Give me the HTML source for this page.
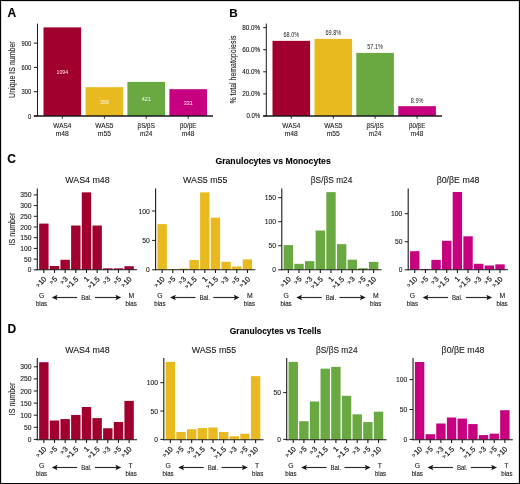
<!DOCTYPE html>
<html><head><meta charset="utf-8"><title>Figure</title>
<style>
html,body{margin:0;padding:0;background:#fff;}
body{width:520px;height:484px;overflow:hidden;position:relative;}
#frame{position:absolute;left:0;top:0;width:518px;height:482px;border:1px solid #000;box-shadow:inset 1px 1px 0 rgba(0,0,0,.13),inset -1px 0 0 rgba(0,0,0,.13);}
svg{position:absolute;left:0;top:0;display:block;will-change:transform;}
svg text{font-family:"Liberation Sans",sans-serif;stroke:#1c1c1c;stroke-width:0.12px;}
svg text.r{stroke-width:0.22px;}
svg text.w{stroke:none;}
</style></head><body>
<svg width="520" height="484" viewBox="0 0 520 484">
<text x="7.4" y="17.3" font-size="12" text-anchor="start" font-weight="bold" fill="#000" stroke="#000" stroke-width="0.35">A</text>
<text x="229.2" y="17.2" font-size="11.7" text-anchor="start" font-weight="bold" fill="#000" stroke="#000" stroke-width="0.35">B</text>
<text x="7.3" y="163.2" font-size="12" text-anchor="start" font-weight="bold" fill="#000" stroke="#000" stroke-width="0.35">C</text>
<text x="7.4" y="333.2" font-size="12" text-anchor="start" font-weight="bold" fill="#000" stroke="#000" stroke-width="0.35">D</text>
<rect x="43.5" y="27.39" width="37.6" height="88.61" fill="#A1002E"/>
<text x="62.3" y="73.79" font-size="5.9" text-anchor="middle" font-weight="normal" fill="#ffffff" textLength="11.4" lengthAdjust="spacingAndGlyphs" opacity="0.93" class="w">1094</text>
<line x1="62.3" y1="116" x2="62.3" y2="118.8" stroke="#1a1a1a" stroke-width="0.9"/>
<text x="62.3" y="128.2" font-size="7.2" text-anchor="middle" font-weight="normal" fill="#1c1c1c" textLength="18" lengthAdjust="spacingAndGlyphs">WAS4</text>
<text x="62.3" y="136" font-size="7.2" text-anchor="middle" font-weight="normal" fill="#1c1c1c" textLength="13.1" lengthAdjust="spacingAndGlyphs">m48</text>
<rect x="85.6" y="87.16" width="37.6" height="28.84" fill="#E9BA1F"/>
<text x="104.4" y="103.68" font-size="5.9" text-anchor="middle" font-weight="normal" fill="#ffffff" textLength="9" lengthAdjust="spacingAndGlyphs" opacity="0.93" class="w">356</text>
<line x1="104.4" y1="116" x2="104.4" y2="118.8" stroke="#1a1a1a" stroke-width="0.9"/>
<text x="104.4" y="128.2" font-size="7.2" text-anchor="middle" font-weight="normal" fill="#1c1c1c" textLength="18.2" lengthAdjust="spacingAndGlyphs">WAS5</text>
<text x="104.4" y="136" font-size="7.2" text-anchor="middle" font-weight="normal" fill="#1c1c1c" textLength="13.1" lengthAdjust="spacingAndGlyphs">m55</text>
<rect x="127.4" y="81.9" width="37.6" height="34.1" fill="#6AA841"/>
<text x="146.2" y="101.05" font-size="5.9" text-anchor="middle" font-weight="normal" fill="#ffffff" textLength="9" lengthAdjust="spacingAndGlyphs" opacity="0.93" class="w">421</text>
<line x1="146.2" y1="116" x2="146.2" y2="118.8" stroke="#1a1a1a" stroke-width="0.9"/>
<text x="146.2" y="128.2" font-size="7.2" text-anchor="middle" font-weight="normal" fill="#1c1c1c" textLength="17.3" lengthAdjust="spacingAndGlyphs">βS/βS</text>
<text x="146.2" y="136" font-size="7.2" text-anchor="middle" font-weight="normal" fill="#1c1c1c" textLength="12.5" lengthAdjust="spacingAndGlyphs">m24</text>
<rect x="169.4" y="89.19" width="37.6" height="26.81" fill="#C6007E"/>
<text x="188.2" y="104.69" font-size="5.9" text-anchor="middle" font-weight="normal" fill="#ffffff" textLength="9" lengthAdjust="spacingAndGlyphs" opacity="0.93" class="w">331</text>
<line x1="188.2" y1="116" x2="188.2" y2="118.8" stroke="#1a1a1a" stroke-width="0.9"/>
<text x="188.2" y="128.2" font-size="7.2" text-anchor="middle" font-weight="normal" fill="#1c1c1c" textLength="16.4" lengthAdjust="spacingAndGlyphs">β0/βE</text>
<text x="188.2" y="136" font-size="7.2" text-anchor="middle" font-weight="normal" fill="#1c1c1c" textLength="12.5" lengthAdjust="spacingAndGlyphs">m48</text>
<line x1="37.5" y1="23.6" x2="37.5" y2="116.5" stroke="#1a1a1a" stroke-width="1"/>
<line x1="33.9" y1="116" x2="213" y2="116" stroke="#1a1a1a" stroke-width="1.3"/>
<line x1="33.9" y1="116" x2="37.5" y2="116" stroke="#1a1a1a" stroke-width="1"/>
<text x="31.3" y="118.5" font-size="7" text-anchor="end" font-weight="normal" fill="#1c1c1c" textLength="3.3" lengthAdjust="spacingAndGlyphs">0</text>
<line x1="33.9" y1="91.7" x2="37.5" y2="91.7" stroke="#1a1a1a" stroke-width="1"/>
<text x="31.3" y="94.2" font-size="7" text-anchor="end" font-weight="normal" fill="#1c1c1c" textLength="9.8" lengthAdjust="spacingAndGlyphs">300</text>
<line x1="33.9" y1="67.4" x2="37.5" y2="67.4" stroke="#1a1a1a" stroke-width="1"/>
<text x="31.3" y="69.9" font-size="7" text-anchor="end" font-weight="normal" fill="#1c1c1c" textLength="9.8" lengthAdjust="spacingAndGlyphs">600</text>
<line x1="33.9" y1="43.1" x2="37.5" y2="43.1" stroke="#1a1a1a" stroke-width="1"/>
<text x="31.3" y="45.6" font-size="7" text-anchor="end" font-weight="normal" fill="#1c1c1c" textLength="9.8" lengthAdjust="spacingAndGlyphs">900</text>
<text transform="translate(15 69.6) rotate(-90)" font-size="8.8" text-anchor="middle" fill="#1c1c1c" textLength="56.6" lengthAdjust="spacingAndGlyphs">Unique IS number</text>
<rect x="272.5" y="40.86" width="37.6" height="75.14" fill="#A1002E"/>
<text x="291.3" y="37.26" font-size="6.5" text-anchor="middle" font-weight="normal" fill="#1c1c1c" textLength="15.6" lengthAdjust="spacingAndGlyphs" class="w">68.0%</text>
<line x1="291.3" y1="116" x2="291.3" y2="118.8" stroke="#1a1a1a" stroke-width="0.9"/>
<text x="291.3" y="128.2" font-size="7.2" text-anchor="middle" font-weight="normal" fill="#1c1c1c" textLength="18" lengthAdjust="spacingAndGlyphs">WAS4</text>
<text x="291.3" y="136" font-size="7.2" text-anchor="middle" font-weight="normal" fill="#1c1c1c" textLength="13.1" lengthAdjust="spacingAndGlyphs">m48</text>
<rect x="314.5" y="38.87" width="37.6" height="77.13" fill="#E9BA1F"/>
<text x="333.3" y="35.27" font-size="6.5" text-anchor="middle" font-weight="normal" fill="#1c1c1c" textLength="15.6" lengthAdjust="spacingAndGlyphs" class="w">69.8%</text>
<line x1="333.3" y1="116" x2="333.3" y2="118.8" stroke="#1a1a1a" stroke-width="0.9"/>
<text x="333.3" y="128.2" font-size="7.2" text-anchor="middle" font-weight="normal" fill="#1c1c1c" textLength="18.2" lengthAdjust="spacingAndGlyphs">WAS5</text>
<text x="333.3" y="136" font-size="7.2" text-anchor="middle" font-weight="normal" fill="#1c1c1c" textLength="13.1" lengthAdjust="spacingAndGlyphs">m55</text>
<rect x="356.3" y="52.9" width="37.6" height="63.1" fill="#6AA841"/>
<text x="375.1" y="49.3" font-size="6.5" text-anchor="middle" font-weight="normal" fill="#1c1c1c" textLength="15.6" lengthAdjust="spacingAndGlyphs" class="w">57.1%</text>
<line x1="375.1" y1="116" x2="375.1" y2="118.8" stroke="#1a1a1a" stroke-width="0.9"/>
<text x="375.1" y="128.2" font-size="7.2" text-anchor="middle" font-weight="normal" fill="#1c1c1c" textLength="17.3" lengthAdjust="spacingAndGlyphs">βS/βS</text>
<text x="375.1" y="136" font-size="7.2" text-anchor="middle" font-weight="normal" fill="#1c1c1c" textLength="12.5" lengthAdjust="spacingAndGlyphs">m24</text>
<rect x="398.3" y="106.17" width="37.6" height="9.83" fill="#C6007E"/>
<text x="417.1" y="102.57" font-size="6.5" text-anchor="middle" font-weight="normal" fill="#1c1c1c" textLength="12.6" lengthAdjust="spacingAndGlyphs" class="w">8.9%</text>
<line x1="417.1" y1="116" x2="417.1" y2="118.8" stroke="#1a1a1a" stroke-width="0.9"/>
<text x="417.1" y="128.2" font-size="7.2" text-anchor="middle" font-weight="normal" fill="#1c1c1c" textLength="16.4" lengthAdjust="spacingAndGlyphs">β0/βE</text>
<text x="417.1" y="136" font-size="7.2" text-anchor="middle" font-weight="normal" fill="#1c1c1c" textLength="12.5" lengthAdjust="spacingAndGlyphs">m48</text>
<line x1="266.3" y1="23.6" x2="266.3" y2="116.5" stroke="#1a1a1a" stroke-width="1"/>
<line x1="263.2" y1="116" x2="442" y2="116" stroke="#1a1a1a" stroke-width="1.3"/>
<line x1="263.2" y1="116" x2="266.3" y2="116" stroke="#1a1a1a" stroke-width="1"/>
<text x="260.2" y="118.3" font-size="6.8" text-anchor="end" font-weight="normal" fill="#1c1c1c" textLength="13.8" lengthAdjust="spacingAndGlyphs">0.0%</text>
<line x1="263.2" y1="93.9" x2="266.3" y2="93.9" stroke="#1a1a1a" stroke-width="1"/>
<text x="260.2" y="96.2" font-size="6.8" text-anchor="end" font-weight="normal" fill="#1c1c1c" textLength="18" lengthAdjust="spacingAndGlyphs">20.0%</text>
<line x1="263.2" y1="71.8" x2="266.3" y2="71.8" stroke="#1a1a1a" stroke-width="1"/>
<text x="260.2" y="74.1" font-size="6.8" text-anchor="end" font-weight="normal" fill="#1c1c1c" textLength="18" lengthAdjust="spacingAndGlyphs">40.0%</text>
<line x1="263.2" y1="49.7" x2="266.3" y2="49.7" stroke="#1a1a1a" stroke-width="1"/>
<text x="260.2" y="52" font-size="6.8" text-anchor="end" font-weight="normal" fill="#1c1c1c" textLength="18" lengthAdjust="spacingAndGlyphs">60.0%</text>
<line x1="263.2" y1="27.6" x2="266.3" y2="27.6" stroke="#1a1a1a" stroke-width="1"/>
<text x="260.2" y="29.9" font-size="6.8" text-anchor="end" font-weight="normal" fill="#1c1c1c" textLength="18" lengthAdjust="spacingAndGlyphs">80.0%</text>
<text transform="translate(236.2 69.6) rotate(-90)" font-size="8.6" text-anchor="middle" fill="#1c1c1c" textLength="68" lengthAdjust="spacingAndGlyphs">% total hematopoiesis</text>
<text x="273.1" y="164" font-size="9" text-anchor="middle" font-weight="bold" fill="#000" textLength="115.4" lengthAdjust="spacingAndGlyphs" stroke="#000" stroke-width="0.2">Granulocytes vs Monocytes</text>
<rect x="39.15" y="223.6" width="9.4" height="46.1" fill="#A1002E"/>
<line x1="43.85" y1="269.7" x2="43.85" y2="272.9" stroke="#1a1a1a" stroke-width="1.1"/>
<text class="r" transform="translate(46.95 279.5) rotate(-45)" font-size="7.3" text-anchor="end" fill="#1c1c1c"><tspan font-size="5.4" dy="-0.6" fill="#3a3a3a">&gt;</tspan><tspan dy="0.6" dx="0.5">10</tspan></text>
<rect x="49.81" y="265.98" width="9.4" height="3.72" fill="#A1002E"/>
<line x1="54.51" y1="269.7" x2="54.51" y2="272.9" stroke="#1a1a1a" stroke-width="1.1"/>
<text class="r" transform="translate(57.61 279.5) rotate(-45)" font-size="7.3" text-anchor="end" fill="#1c1c1c"><tspan font-size="5.4" dy="-0.6" fill="#3a3a3a">&gt;</tspan><tspan dy="0.6" dx="0.5">5</tspan></text>
<rect x="60.47" y="259.77" width="9.4" height="9.93" fill="#A1002E"/>
<line x1="65.17" y1="269.7" x2="65.17" y2="272.9" stroke="#1a1a1a" stroke-width="1.1"/>
<text class="r" transform="translate(68.27 279.5) rotate(-45)" font-size="7.3" text-anchor="end" fill="#1c1c1c"><tspan font-size="5.4" dy="-0.6" fill="#3a3a3a">&gt;</tspan><tspan dy="0.6" dx="0.5">3</tspan></text>
<rect x="71.13" y="225.53" width="9.4" height="44.17" fill="#A1002E"/>
<line x1="75.83" y1="269.7" x2="75.83" y2="272.9" stroke="#1a1a1a" stroke-width="1.1"/>
<text class="r" transform="translate(78.93 279.5) rotate(-45)" font-size="7.3" text-anchor="end" fill="#1c1c1c"><tspan font-size="5.4" dy="-0.6" fill="#3a3a3a">&gt;</tspan><tspan dy="0.6" dx="0.5">1.5</tspan></text>
<rect x="81.79" y="192.36" width="9.4" height="77.34" fill="#A1002E"/>
<line x1="86.49" y1="269.7" x2="86.49" y2="272.9" stroke="#1a1a1a" stroke-width="1.1"/>
<text class="r" transform="translate(89.59 279.5) rotate(-45)" font-size="7.3" text-anchor="end" fill="#1c1c1c">1</text>
<rect x="92.45" y="225.53" width="9.4" height="44.17" fill="#A1002E"/>
<line x1="97.15" y1="269.7" x2="97.15" y2="272.9" stroke="#1a1a1a" stroke-width="1.1"/>
<text class="r" transform="translate(100.25 279.5) rotate(-45)" font-size="7.3" text-anchor="end" fill="#1c1c1c"><tspan font-size="5.4" dy="-0.6" fill="#3a3a3a">&gt;</tspan><tspan dy="0.6" dx="0.5">1.5</tspan></text>
<rect x="103.11" y="268.33" width="9.4" height="1.37" fill="#A1002E"/>
<line x1="107.81" y1="269.7" x2="107.81" y2="272.9" stroke="#1a1a1a" stroke-width="1.1"/>
<text class="r" transform="translate(110.91 279.5) rotate(-45)" font-size="7.3" text-anchor="end" fill="#1c1c1c"><tspan font-size="5.4" dy="-0.6" fill="#3a3a3a">&gt;</tspan><tspan dy="0.6" dx="0.5">3</tspan></text>
<rect x="113.77" y="268.33" width="9.4" height="1.37" fill="#A1002E"/>
<line x1="118.47" y1="269.7" x2="118.47" y2="272.9" stroke="#1a1a1a" stroke-width="1.1"/>
<text class="r" transform="translate(121.57 279.5) rotate(-45)" font-size="7.3" text-anchor="end" fill="#1c1c1c"><tspan font-size="5.4" dy="-0.6" fill="#3a3a3a">&gt;</tspan><tspan dy="0.6" dx="0.5">5</tspan></text>
<rect x="124.43" y="266.19" width="9.4" height="3.51" fill="#A1002E"/>
<line x1="129.13" y1="269.7" x2="129.13" y2="272.9" stroke="#1a1a1a" stroke-width="1.1"/>
<text class="r" transform="translate(132.23 279.5) rotate(-45)" font-size="7.3" text-anchor="end" fill="#1c1c1c"><tspan font-size="5.4" dy="-0.6" fill="#3a3a3a">&gt;</tspan><tspan dy="0.6" dx="0.5">10</tspan></text>
<line x1="37.3" y1="188.4" x2="37.3" y2="270.2" stroke="#1a1a1a" stroke-width="1.1"/>
<line x1="36.8" y1="269.7" x2="137.09" y2="269.7" stroke="#1a1a1a" stroke-width="1.1"/>
<line x1="33.8" y1="269.8" x2="37.3" y2="269.8" stroke="#1a1a1a" stroke-width="1"/>
<text x="31.5" y="272.3" font-size="7" text-anchor="end" font-weight="normal" fill="#1c1c1c" textLength="3.7" lengthAdjust="spacingAndGlyphs">0</text>
<line x1="33.8" y1="259.1" x2="37.3" y2="259.1" stroke="#1a1a1a" stroke-width="1"/>
<text x="31.5" y="261.6" font-size="7" text-anchor="end" font-weight="normal" fill="#1c1c1c" textLength="7.5" lengthAdjust="spacingAndGlyphs">50</text>
<line x1="33.8" y1="248.4" x2="37.3" y2="248.4" stroke="#1a1a1a" stroke-width="1"/>
<text x="31.5" y="250.9" font-size="7" text-anchor="end" font-weight="normal" fill="#1c1c1c" textLength="11.3" lengthAdjust="spacingAndGlyphs">100</text>
<line x1="33.8" y1="237.7" x2="37.3" y2="237.7" stroke="#1a1a1a" stroke-width="1"/>
<text x="31.5" y="240.2" font-size="7" text-anchor="end" font-weight="normal" fill="#1c1c1c" textLength="11.3" lengthAdjust="spacingAndGlyphs">150</text>
<line x1="33.8" y1="227" x2="37.3" y2="227" stroke="#1a1a1a" stroke-width="1"/>
<text x="31.5" y="229.5" font-size="7" text-anchor="end" font-weight="normal" fill="#1c1c1c" textLength="11.3" lengthAdjust="spacingAndGlyphs">200</text>
<line x1="33.8" y1="216.3" x2="37.3" y2="216.3" stroke="#1a1a1a" stroke-width="1"/>
<text x="31.5" y="218.8" font-size="7" text-anchor="end" font-weight="normal" fill="#1c1c1c" textLength="11.3" lengthAdjust="spacingAndGlyphs">250</text>
<line x1="33.8" y1="205.6" x2="37.3" y2="205.6" stroke="#1a1a1a" stroke-width="1"/>
<text x="31.5" y="208.1" font-size="7" text-anchor="end" font-weight="normal" fill="#1c1c1c" textLength="11.3" lengthAdjust="spacingAndGlyphs">300</text>
<line x1="33.8" y1="194.9" x2="37.3" y2="194.9" stroke="#1a1a1a" stroke-width="1"/>
<text x="31.5" y="197.4" font-size="7" text-anchor="end" font-weight="normal" fill="#1c1c1c" textLength="11.3" lengthAdjust="spacingAndGlyphs">350</text>
<text x="87.5" y="182.7" font-size="8.85" text-anchor="middle" font-weight="normal" fill="#1c1c1c">WAS4 m48</text>
<text x="41.55" y="298.2" font-size="6.8" text-anchor="middle" font-weight="normal" fill="#1c1c1c">G</text>
<text x="41.55" y="306.3" font-size="6.8" text-anchor="middle" font-weight="normal" fill="#1c1c1c" textLength="11.2" lengthAdjust="spacingAndGlyphs">bias</text>
<text x="131.43" y="298.2" font-size="6.8" text-anchor="middle" font-weight="normal" fill="#1c1c1c">M</text>
<text x="131.13" y="306.3" font-size="6.8" text-anchor="middle" font-weight="normal" fill="#1c1c1c" textLength="11.2" lengthAdjust="spacingAndGlyphs">bias</text>
<text x="86.39" y="300" font-size="6.8" text-anchor="middle" font-weight="normal" fill="#1c1c1c" textLength="10.4" lengthAdjust="spacingAndGlyphs">Bal.</text>
<line x1="54.75" y1="297.5" x2="77.19" y2="297.5" stroke="#2b2b2b" stroke-width="1.15"/>
<path d="M51.75 297.5 L57.55 294.7 L56.35 297.5 L57.55 300.3 Z" fill="#1a1a1a"/>
<line x1="94.99" y1="297.5" x2="118.23" y2="297.5" stroke="#2b2b2b" stroke-width="1.15"/>
<path d="M121.23 297.5 L115.43 294.7 L116.63 297.5 L115.43 300.3 Z" fill="#1a1a1a"/>
<text transform="translate(15.2 229.05) rotate(-90)" font-size="8.6" text-anchor="middle" fill="#1c1c1c" textLength="32.6" lengthAdjust="spacingAndGlyphs">IS number</text>
<rect x="157.45" y="224.12" width="9.4" height="45.58" fill="#E9BA1F"/>
<line x1="162.15" y1="269.7" x2="162.15" y2="272.9" stroke="#1a1a1a" stroke-width="1.1"/>
<text class="r" transform="translate(165.25 279.5) rotate(-45)" font-size="7.3" text-anchor="end" fill="#1c1c1c"><tspan font-size="5.4" dy="-0.6" fill="#3a3a3a">&gt;</tspan><tspan dy="0.6" dx="0.5">10</tspan></text>
<rect x="168.11" y="269.05" width="9.4" height="0.65" fill="#E9BA1F"/>
<line x1="172.81" y1="269.7" x2="172.81" y2="272.9" stroke="#1a1a1a" stroke-width="1.1"/>
<text class="r" transform="translate(175.91 279.5) rotate(-45)" font-size="7.3" text-anchor="end" fill="#1c1c1c"><tspan font-size="5.4" dy="-0.6" fill="#3a3a3a">&gt;</tspan><tspan dy="0.6" dx="0.5">5</tspan></text>
<rect x="178.77" y="268.52" width="9.4" height="1.18" fill="#E9BA1F"/>
<line x1="183.47" y1="269.7" x2="183.47" y2="272.9" stroke="#1a1a1a" stroke-width="1.1"/>
<text class="r" transform="translate(186.57 279.5) rotate(-45)" font-size="7.3" text-anchor="end" fill="#1c1c1c"><tspan font-size="5.4" dy="-0.6" fill="#3a3a3a">&gt;</tspan><tspan dy="0.6" dx="0.5">3</tspan></text>
<rect x="189.43" y="259.99" width="9.4" height="9.71" fill="#E9BA1F"/>
<line x1="194.13" y1="269.7" x2="194.13" y2="272.9" stroke="#1a1a1a" stroke-width="1.1"/>
<text class="r" transform="translate(197.23 279.5) rotate(-45)" font-size="7.3" text-anchor="end" fill="#1c1c1c"><tspan font-size="5.4" dy="-0.6" fill="#3a3a3a">&gt;</tspan><tspan dy="0.6" dx="0.5">1.5</tspan></text>
<rect x="200.09" y="192.37" width="9.4" height="77.33" fill="#E9BA1F"/>
<line x1="204.79" y1="269.7" x2="204.79" y2="272.9" stroke="#1a1a1a" stroke-width="1.1"/>
<text class="r" transform="translate(207.89 279.5) rotate(-45)" font-size="7.3" text-anchor="end" fill="#1c1c1c">1</text>
<rect x="210.75" y="217.66" width="9.4" height="52.04" fill="#E9BA1F"/>
<line x1="215.45" y1="269.7" x2="215.45" y2="272.9" stroke="#1a1a1a" stroke-width="1.1"/>
<text class="r" transform="translate(218.55 279.5) rotate(-45)" font-size="7.3" text-anchor="end" fill="#1c1c1c"><tspan font-size="5.4" dy="-0.6" fill="#3a3a3a">&gt;</tspan><tspan dy="0.6" dx="0.5">1.5</tspan></text>
<rect x="221.41" y="261.76" width="9.4" height="7.94" fill="#E9BA1F"/>
<line x1="226.11" y1="269.7" x2="226.11" y2="272.9" stroke="#1a1a1a" stroke-width="1.1"/>
<text class="r" transform="translate(229.21 279.5) rotate(-45)" font-size="7.3" text-anchor="end" fill="#1c1c1c"><tspan font-size="5.4" dy="-0.6" fill="#3a3a3a">&gt;</tspan><tspan dy="0.6" dx="0.5">3</tspan></text>
<rect x="232.07" y="266.46" width="9.4" height="3.24" fill="#E9BA1F"/>
<line x1="236.77" y1="269.7" x2="236.77" y2="272.9" stroke="#1a1a1a" stroke-width="1.1"/>
<text class="r" transform="translate(239.87 279.5) rotate(-45)" font-size="7.3" text-anchor="end" fill="#1c1c1c"><tspan font-size="5.4" dy="-0.6" fill="#3a3a3a">&gt;</tspan><tspan dy="0.6" dx="0.5">5</tspan></text>
<rect x="242.73" y="259.4" width="9.4" height="10.3" fill="#E9BA1F"/>
<line x1="247.43" y1="269.7" x2="247.43" y2="272.9" stroke="#1a1a1a" stroke-width="1.1"/>
<text class="r" transform="translate(250.53 279.5) rotate(-45)" font-size="7.3" text-anchor="end" fill="#1c1c1c"><tspan font-size="5.4" dy="-0.6" fill="#3a3a3a">&gt;</tspan><tspan dy="0.6" dx="0.5">10</tspan></text>
<line x1="155.6" y1="188.4" x2="155.6" y2="270.2" stroke="#1a1a1a" stroke-width="1.1"/>
<line x1="155.1" y1="269.7" x2="255.39" y2="269.7" stroke="#1a1a1a" stroke-width="1.1"/>
<line x1="152.1" y1="269.8" x2="155.6" y2="269.8" stroke="#1a1a1a" stroke-width="1"/>
<text x="149.8" y="272.3" font-size="7" text-anchor="end" font-weight="normal" fill="#1c1c1c" textLength="3.7" lengthAdjust="spacingAndGlyphs">0</text>
<line x1="152.1" y1="240.4" x2="155.6" y2="240.4" stroke="#1a1a1a" stroke-width="1"/>
<text x="149.8" y="242.9" font-size="7" text-anchor="end" font-weight="normal" fill="#1c1c1c" textLength="7.5" lengthAdjust="spacingAndGlyphs">50</text>
<line x1="152.1" y1="211" x2="155.6" y2="211" stroke="#1a1a1a" stroke-width="1"/>
<text x="149.8" y="213.5" font-size="7" text-anchor="end" font-weight="normal" fill="#1c1c1c" textLength="11.3" lengthAdjust="spacingAndGlyphs">100</text>
<text x="205.2" y="182.7" font-size="8.85" text-anchor="middle" font-weight="normal" fill="#1c1c1c">WAS5 m55</text>
<text x="159.85" y="298.2" font-size="6.8" text-anchor="middle" font-weight="normal" fill="#1c1c1c">G</text>
<text x="159.85" y="306.3" font-size="6.8" text-anchor="middle" font-weight="normal" fill="#1c1c1c" textLength="11.2" lengthAdjust="spacingAndGlyphs">bias</text>
<text x="249.73" y="298.2" font-size="6.8" text-anchor="middle" font-weight="normal" fill="#1c1c1c">M</text>
<text x="249.43" y="306.3" font-size="6.8" text-anchor="middle" font-weight="normal" fill="#1c1c1c" textLength="11.2" lengthAdjust="spacingAndGlyphs">bias</text>
<text x="204.69" y="300" font-size="6.8" text-anchor="middle" font-weight="normal" fill="#1c1c1c" textLength="10.4" lengthAdjust="spacingAndGlyphs">Bal.</text>
<line x1="173.05" y1="297.5" x2="195.49" y2="297.5" stroke="#2b2b2b" stroke-width="1.15"/>
<path d="M170.05 297.5 L175.85 294.7 L174.65 297.5 L175.85 300.3 Z" fill="#1a1a1a"/>
<line x1="213.29" y1="297.5" x2="236.53" y2="297.5" stroke="#2b2b2b" stroke-width="1.15"/>
<path d="M239.53 297.5 L233.73 294.7 L234.93 297.5 L233.73 300.3 Z" fill="#1a1a1a"/>
<rect x="283.65" y="245.11" width="9.4" height="24.59" fill="#6AA841"/>
<line x1="288.35" y1="269.7" x2="288.35" y2="272.9" stroke="#1a1a1a" stroke-width="1.1"/>
<text class="r" transform="translate(291.45 279.5) rotate(-45)" font-size="7.3" text-anchor="end" fill="#1c1c1c"><tspan font-size="5.4" dy="-0.6" fill="#3a3a3a">&gt;</tspan><tspan dy="0.6" dx="0.5">10</tspan></text>
<rect x="294.31" y="263.82" width="9.4" height="5.88" fill="#6AA841"/>
<line x1="299.01" y1="269.7" x2="299.01" y2="272.9" stroke="#1a1a1a" stroke-width="1.1"/>
<text class="r" transform="translate(302.11 279.5) rotate(-45)" font-size="7.3" text-anchor="end" fill="#1c1c1c"><tspan font-size="5.4" dy="-0.6" fill="#3a3a3a">&gt;</tspan><tspan dy="0.6" dx="0.5">5</tspan></text>
<rect x="304.97" y="261.13" width="9.4" height="8.57" fill="#6AA841"/>
<line x1="309.67" y1="269.7" x2="309.67" y2="272.9" stroke="#1a1a1a" stroke-width="1.1"/>
<text class="r" transform="translate(312.77 279.5) rotate(-45)" font-size="7.3" text-anchor="end" fill="#1c1c1c"><tspan font-size="5.4" dy="-0.6" fill="#3a3a3a">&gt;</tspan><tspan dy="0.6" dx="0.5">3</tspan></text>
<rect x="315.63" y="230.54" width="9.4" height="39.16" fill="#6AA841"/>
<line x1="320.33" y1="269.7" x2="320.33" y2="272.9" stroke="#1a1a1a" stroke-width="1.1"/>
<text class="r" transform="translate(323.43 279.5) rotate(-45)" font-size="7.3" text-anchor="end" fill="#1c1c1c"><tspan font-size="5.4" dy="-0.6" fill="#3a3a3a">&gt;</tspan><tspan dy="0.6" dx="0.5">1.5</tspan></text>
<rect x="326.29" y="192.15" width="9.4" height="77.55" fill="#6AA841"/>
<line x1="330.99" y1="269.7" x2="330.99" y2="272.9" stroke="#1a1a1a" stroke-width="1.1"/>
<text class="r" transform="translate(334.09 279.5) rotate(-45)" font-size="7.3" text-anchor="end" fill="#1c1c1c">1</text>
<rect x="336.95" y="244.15" width="9.4" height="25.55" fill="#6AA841"/>
<line x1="341.65" y1="269.7" x2="341.65" y2="272.9" stroke="#1a1a1a" stroke-width="1.1"/>
<text class="r" transform="translate(344.75 279.5) rotate(-45)" font-size="7.3" text-anchor="end" fill="#1c1c1c"><tspan font-size="5.4" dy="-0.6" fill="#3a3a3a">&gt;</tspan><tspan dy="0.6" dx="0.5">1.5</tspan></text>
<rect x="347.61" y="259.68" width="9.4" height="10.02" fill="#6AA841"/>
<line x1="352.31" y1="269.7" x2="352.31" y2="272.9" stroke="#1a1a1a" stroke-width="1.1"/>
<text class="r" transform="translate(355.41 279.5) rotate(-45)" font-size="7.3" text-anchor="end" fill="#1c1c1c"><tspan font-size="5.4" dy="-0.6" fill="#3a3a3a">&gt;</tspan><tspan dy="0.6" dx="0.5">3</tspan></text>
<rect x="358.27" y="268.2" width="9.4" height="1.5" fill="#6AA841"/>
<line x1="362.97" y1="269.7" x2="362.97" y2="272.9" stroke="#1a1a1a" stroke-width="1.1"/>
<text class="r" transform="translate(366.07 279.5) rotate(-45)" font-size="7.3" text-anchor="end" fill="#1c1c1c"><tspan font-size="5.4" dy="-0.6" fill="#3a3a3a">&gt;</tspan><tspan dy="0.6" dx="0.5">5</tspan></text>
<rect x="368.93" y="261.85" width="9.4" height="7.85" fill="#6AA841"/>
<line x1="373.63" y1="269.7" x2="373.63" y2="272.9" stroke="#1a1a1a" stroke-width="1.1"/>
<text class="r" transform="translate(376.73 279.5) rotate(-45)" font-size="7.3" text-anchor="end" fill="#1c1c1c"><tspan font-size="5.4" dy="-0.6" fill="#3a3a3a">&gt;</tspan><tspan dy="0.6" dx="0.5">10</tspan></text>
<line x1="281.8" y1="188.4" x2="281.8" y2="270.2" stroke="#1a1a1a" stroke-width="1.1"/>
<line x1="281.3" y1="269.7" x2="381.59" y2="269.7" stroke="#1a1a1a" stroke-width="1.1"/>
<line x1="278.3" y1="269.8" x2="281.8" y2="269.8" stroke="#1a1a1a" stroke-width="1"/>
<text x="276" y="272.3" font-size="7" text-anchor="end" font-weight="normal" fill="#1c1c1c" textLength="3.7" lengthAdjust="spacingAndGlyphs">0</text>
<line x1="278.3" y1="245.75" x2="281.8" y2="245.75" stroke="#1a1a1a" stroke-width="1"/>
<text x="276" y="248.25" font-size="7" text-anchor="end" font-weight="normal" fill="#1c1c1c" textLength="7.5" lengthAdjust="spacingAndGlyphs">50</text>
<line x1="278.3" y1="221.7" x2="281.8" y2="221.7" stroke="#1a1a1a" stroke-width="1"/>
<text x="276" y="224.2" font-size="7" text-anchor="end" font-weight="normal" fill="#1c1c1c" textLength="11.3" lengthAdjust="spacingAndGlyphs">100</text>
<line x1="278.3" y1="197.65" x2="281.8" y2="197.65" stroke="#1a1a1a" stroke-width="1"/>
<text x="276" y="200.15" font-size="7" text-anchor="end" font-weight="normal" fill="#1c1c1c" textLength="11.3" lengthAdjust="spacingAndGlyphs">150</text>
<text x="331.6" y="182.7" font-size="8.85" text-anchor="middle" font-weight="normal" fill="#1c1c1c" textLength="41.6" lengthAdjust="spacingAndGlyphs">βS/βS m24</text>
<text x="286.05" y="298.2" font-size="6.8" text-anchor="middle" font-weight="normal" fill="#1c1c1c">G</text>
<text x="286.05" y="306.3" font-size="6.8" text-anchor="middle" font-weight="normal" fill="#1c1c1c" textLength="11.2" lengthAdjust="spacingAndGlyphs">bias</text>
<text x="375.93" y="298.2" font-size="6.8" text-anchor="middle" font-weight="normal" fill="#1c1c1c">M</text>
<text x="375.63" y="306.3" font-size="6.8" text-anchor="middle" font-weight="normal" fill="#1c1c1c" textLength="11.2" lengthAdjust="spacingAndGlyphs">bias</text>
<text x="330.89" y="300" font-size="6.8" text-anchor="middle" font-weight="normal" fill="#1c1c1c" textLength="10.4" lengthAdjust="spacingAndGlyphs">Bal.</text>
<line x1="299.25" y1="297.5" x2="321.69" y2="297.5" stroke="#2b2b2b" stroke-width="1.15"/>
<path d="M296.25 297.5 L302.05 294.7 L300.85 297.5 L302.05 300.3 Z" fill="#1a1a1a"/>
<line x1="339.49" y1="297.5" x2="362.73" y2="297.5" stroke="#2b2b2b" stroke-width="1.15"/>
<path d="M365.73 297.5 L359.93 294.7 L361.13 297.5 L359.93 300.3 Z" fill="#1a1a1a"/>
<rect x="410.05" y="251.17" width="9.4" height="18.53" fill="#C6007E"/>
<line x1="414.75" y1="269.7" x2="414.75" y2="272.9" stroke="#1a1a1a" stroke-width="1.1"/>
<text class="r" transform="translate(417.85 279.5) rotate(-45)" font-size="7.3" text-anchor="end" fill="#1c1c1c"><tspan font-size="5.4" dy="-0.6" fill="#3a3a3a">&gt;</tspan><tspan dy="0.6" dx="0.5">10</tspan></text>
<rect x="420.71" y="268.95" width="9.4" height="0.75" fill="#C6007E"/>
<line x1="425.41" y1="269.7" x2="425.41" y2="272.9" stroke="#1a1a1a" stroke-width="1.1"/>
<text class="r" transform="translate(428.51 279.5) rotate(-45)" font-size="7.3" text-anchor="end" fill="#1c1c1c"><tspan font-size="5.4" dy="-0.6" fill="#3a3a3a">&gt;</tspan><tspan dy="0.6" dx="0.5">5</tspan></text>
<rect x="431.37" y="259.86" width="9.4" height="9.84" fill="#C6007E"/>
<line x1="436.07" y1="269.7" x2="436.07" y2="272.9" stroke="#1a1a1a" stroke-width="1.1"/>
<text class="r" transform="translate(439.17 279.5) rotate(-45)" font-size="7.3" text-anchor="end" fill="#1c1c1c"><tspan font-size="5.4" dy="-0.6" fill="#3a3a3a">&gt;</tspan><tspan dy="0.6" dx="0.5">3</tspan></text>
<rect x="442.03" y="240.79" width="9.4" height="28.91" fill="#C6007E"/>
<line x1="446.73" y1="269.7" x2="446.73" y2="272.9" stroke="#1a1a1a" stroke-width="1.1"/>
<text class="r" transform="translate(449.83 279.5) rotate(-45)" font-size="7.3" text-anchor="end" fill="#1c1c1c"><tspan font-size="5.4" dy="-0.6" fill="#3a3a3a">&gt;</tspan><tspan dy="0.6" dx="0.5">1.5</tspan></text>
<rect x="452.69" y="191.98" width="9.4" height="77.72" fill="#C6007E"/>
<line x1="457.39" y1="269.7" x2="457.39" y2="272.9" stroke="#1a1a1a" stroke-width="1.1"/>
<text class="r" transform="translate(460.49 279.5) rotate(-45)" font-size="7.3" text-anchor="end" fill="#1c1c1c">1</text>
<rect x="463.35" y="236.3" width="9.4" height="33.4" fill="#C6007E"/>
<line x1="468.05" y1="269.7" x2="468.05" y2="272.9" stroke="#1a1a1a" stroke-width="1.1"/>
<text class="r" transform="translate(471.15 279.5) rotate(-45)" font-size="7.3" text-anchor="end" fill="#1c1c1c"><tspan font-size="5.4" dy="-0.6" fill="#3a3a3a">&gt;</tspan><tspan dy="0.6" dx="0.5">1.5</tspan></text>
<rect x="474.01" y="263.79" width="9.4" height="5.91" fill="#C6007E"/>
<line x1="478.71" y1="269.7" x2="478.71" y2="272.9" stroke="#1a1a1a" stroke-width="1.1"/>
<text class="r" transform="translate(481.81 279.5) rotate(-45)" font-size="7.3" text-anchor="end" fill="#1c1c1c"><tspan font-size="5.4" dy="-0.6" fill="#3a3a3a">&gt;</tspan><tspan dy="0.6" dx="0.5">3</tspan></text>
<rect x="484.67" y="265.47" width="9.4" height="4.23" fill="#C6007E"/>
<line x1="489.37" y1="269.7" x2="489.37" y2="272.9" stroke="#1a1a1a" stroke-width="1.1"/>
<text class="r" transform="translate(492.47 279.5) rotate(-45)" font-size="7.3" text-anchor="end" fill="#1c1c1c"><tspan font-size="5.4" dy="-0.6" fill="#3a3a3a">&gt;</tspan><tspan dy="0.6" dx="0.5">5</tspan></text>
<rect x="495.33" y="264.35" width="9.4" height="5.35" fill="#C6007E"/>
<line x1="500.03" y1="269.7" x2="500.03" y2="272.9" stroke="#1a1a1a" stroke-width="1.1"/>
<text class="r" transform="translate(503.13 279.5) rotate(-45)" font-size="7.3" text-anchor="end" fill="#1c1c1c"><tspan font-size="5.4" dy="-0.6" fill="#3a3a3a">&gt;</tspan><tspan dy="0.6" dx="0.5">10</tspan></text>
<line x1="408.2" y1="188.4" x2="408.2" y2="270.2" stroke="#1a1a1a" stroke-width="1.1"/>
<line x1="407.7" y1="269.7" x2="507.99" y2="269.7" stroke="#1a1a1a" stroke-width="1.1"/>
<line x1="404.7" y1="269.8" x2="408.2" y2="269.8" stroke="#1a1a1a" stroke-width="1"/>
<text x="402.4" y="272.3" font-size="7" text-anchor="end" font-weight="normal" fill="#1c1c1c" textLength="3.7" lengthAdjust="spacingAndGlyphs">0</text>
<line x1="404.7" y1="241.75" x2="408.2" y2="241.75" stroke="#1a1a1a" stroke-width="1"/>
<text x="402.4" y="244.25" font-size="7" text-anchor="end" font-weight="normal" fill="#1c1c1c" textLength="7.5" lengthAdjust="spacingAndGlyphs">50</text>
<line x1="404.7" y1="213.7" x2="408.2" y2="213.7" stroke="#1a1a1a" stroke-width="1"/>
<text x="402.4" y="216.2" font-size="7" text-anchor="end" font-weight="normal" fill="#1c1c1c" textLength="11.3" lengthAdjust="spacingAndGlyphs">100</text>
<text x="458.1" y="182.7" font-size="8.85" text-anchor="middle" font-weight="normal" fill="#1c1c1c" textLength="42.8" lengthAdjust="spacingAndGlyphs">β0/βE m48</text>
<text x="412.45" y="298.2" font-size="6.8" text-anchor="middle" font-weight="normal" fill="#1c1c1c">G</text>
<text x="412.45" y="306.3" font-size="6.8" text-anchor="middle" font-weight="normal" fill="#1c1c1c" textLength="11.2" lengthAdjust="spacingAndGlyphs">bias</text>
<text x="502.33" y="298.2" font-size="6.8" text-anchor="middle" font-weight="normal" fill="#1c1c1c">M</text>
<text x="502.03" y="306.3" font-size="6.8" text-anchor="middle" font-weight="normal" fill="#1c1c1c" textLength="11.2" lengthAdjust="spacingAndGlyphs">bias</text>
<text x="457.29" y="300" font-size="6.8" text-anchor="middle" font-weight="normal" fill="#1c1c1c" textLength="10.4" lengthAdjust="spacingAndGlyphs">Bal.</text>
<line x1="425.65" y1="297.5" x2="448.09" y2="297.5" stroke="#2b2b2b" stroke-width="1.15"/>
<path d="M422.65 297.5 L428.45 294.7 L427.25 297.5 L428.45 300.3 Z" fill="#1a1a1a"/>
<line x1="465.89" y1="297.5" x2="489.13" y2="297.5" stroke="#2b2b2b" stroke-width="1.15"/>
<path d="M492.13 297.5 L486.33 294.7 L487.53 297.5 L486.33 300.3 Z" fill="#1a1a1a"/>
<text x="275.5" y="333.7" font-size="9" text-anchor="middle" font-weight="bold" fill="#000" textLength="91.4" lengthAdjust="spacingAndGlyphs" stroke="#000" stroke-width="0.2">Granulocytes vs Tcells</text>
<rect x="39.15" y="362.2" width="9.4" height="77.5" fill="#A1002E"/>
<line x1="43.85" y1="439.7" x2="43.85" y2="442.9" stroke="#1a1a1a" stroke-width="1.1"/>
<text class="r" transform="translate(46.95 449.5) rotate(-45)" font-size="7.3" text-anchor="end" fill="#1c1c1c"><tspan font-size="5.4" dy="-0.6" fill="#3a3a3a">&gt;</tspan><tspan dy="0.6" dx="0.5">10</tspan></text>
<rect x="49.81" y="420.52" width="9.4" height="19.18" fill="#A1002E"/>
<line x1="54.51" y1="439.7" x2="54.51" y2="442.9" stroke="#1a1a1a" stroke-width="1.1"/>
<text class="r" transform="translate(57.61 449.5) rotate(-45)" font-size="7.3" text-anchor="end" fill="#1c1c1c"><tspan font-size="5.4" dy="-0.6" fill="#3a3a3a">&gt;</tspan><tspan dy="0.6" dx="0.5">5</tspan></text>
<rect x="60.47" y="419.07" width="9.4" height="20.63" fill="#A1002E"/>
<line x1="65.17" y1="439.7" x2="65.17" y2="442.9" stroke="#1a1a1a" stroke-width="1.1"/>
<text class="r" transform="translate(68.27 449.5) rotate(-45)" font-size="7.3" text-anchor="end" fill="#1c1c1c"><tspan font-size="5.4" dy="-0.6" fill="#3a3a3a">&gt;</tspan><tspan dy="0.6" dx="0.5">3</tspan></text>
<rect x="71.13" y="414.96" width="9.4" height="24.74" fill="#A1002E"/>
<line x1="75.83" y1="439.7" x2="75.83" y2="442.9" stroke="#1a1a1a" stroke-width="1.1"/>
<text class="r" transform="translate(78.93 449.5) rotate(-45)" font-size="7.3" text-anchor="end" fill="#1c1c1c"><tspan font-size="5.4" dy="-0.6" fill="#3a3a3a">&gt;</tspan><tspan dy="0.6" dx="0.5">1.5</tspan></text>
<rect x="81.79" y="406.97" width="9.4" height="32.73" fill="#A1002E"/>
<line x1="86.49" y1="439.7" x2="86.49" y2="442.9" stroke="#1a1a1a" stroke-width="1.1"/>
<text class="r" transform="translate(89.59 449.5) rotate(-45)" font-size="7.3" text-anchor="end" fill="#1c1c1c">1</text>
<rect x="92.45" y="418.1" width="9.4" height="21.6" fill="#A1002E"/>
<line x1="97.15" y1="439.7" x2="97.15" y2="442.9" stroke="#1a1a1a" stroke-width="1.1"/>
<text class="r" transform="translate(100.25 449.5) rotate(-45)" font-size="7.3" text-anchor="end" fill="#1c1c1c"><tspan font-size="5.4" dy="-0.6" fill="#3a3a3a">&gt;</tspan><tspan dy="0.6" dx="0.5">1.5</tspan></text>
<rect x="103.11" y="428.27" width="9.4" height="11.43" fill="#A1002E"/>
<line x1="107.81" y1="439.7" x2="107.81" y2="442.9" stroke="#1a1a1a" stroke-width="1.1"/>
<text class="r" transform="translate(110.91 449.5) rotate(-45)" font-size="7.3" text-anchor="end" fill="#1c1c1c"><tspan font-size="5.4" dy="-0.6" fill="#3a3a3a">&gt;</tspan><tspan dy="0.6" dx="0.5">3</tspan></text>
<rect x="113.77" y="421.98" width="9.4" height="17.72" fill="#A1002E"/>
<line x1="118.47" y1="439.7" x2="118.47" y2="442.9" stroke="#1a1a1a" stroke-width="1.1"/>
<text class="r" transform="translate(121.57 449.5) rotate(-45)" font-size="7.3" text-anchor="end" fill="#1c1c1c"><tspan font-size="5.4" dy="-0.6" fill="#3a3a3a">&gt;</tspan><tspan dy="0.6" dx="0.5">5</tspan></text>
<rect x="124.43" y="400.92" width="9.4" height="38.78" fill="#A1002E"/>
<line x1="129.13" y1="439.7" x2="129.13" y2="442.9" stroke="#1a1a1a" stroke-width="1.1"/>
<text class="r" transform="translate(132.23 449.5) rotate(-45)" font-size="7.3" text-anchor="end" fill="#1c1c1c"><tspan font-size="5.4" dy="-0.6" fill="#3a3a3a">&gt;</tspan><tspan dy="0.6" dx="0.5">10</tspan></text>
<line x1="37.3" y1="358.1" x2="37.3" y2="440.2" stroke="#1a1a1a" stroke-width="1.1"/>
<line x1="36.8" y1="439.7" x2="137.09" y2="439.7" stroke="#1a1a1a" stroke-width="1.1"/>
<line x1="33.8" y1="439.4" x2="37.3" y2="439.4" stroke="#1a1a1a" stroke-width="1"/>
<text x="31.5" y="441.9" font-size="7" text-anchor="end" font-weight="normal" fill="#1c1c1c" textLength="3.7" lengthAdjust="spacingAndGlyphs">0</text>
<line x1="33.8" y1="427.3" x2="37.3" y2="427.3" stroke="#1a1a1a" stroke-width="1"/>
<text x="31.5" y="429.8" font-size="7" text-anchor="end" font-weight="normal" fill="#1c1c1c" textLength="7.5" lengthAdjust="spacingAndGlyphs">50</text>
<line x1="33.8" y1="415.2" x2="37.3" y2="415.2" stroke="#1a1a1a" stroke-width="1"/>
<text x="31.5" y="417.7" font-size="7" text-anchor="end" font-weight="normal" fill="#1c1c1c" textLength="11.3" lengthAdjust="spacingAndGlyphs">100</text>
<line x1="33.8" y1="403.1" x2="37.3" y2="403.1" stroke="#1a1a1a" stroke-width="1"/>
<text x="31.5" y="405.6" font-size="7" text-anchor="end" font-weight="normal" fill="#1c1c1c" textLength="11.3" lengthAdjust="spacingAndGlyphs">150</text>
<line x1="33.8" y1="391" x2="37.3" y2="391" stroke="#1a1a1a" stroke-width="1"/>
<text x="31.5" y="393.5" font-size="7" text-anchor="end" font-weight="normal" fill="#1c1c1c" textLength="11.3" lengthAdjust="spacingAndGlyphs">200</text>
<line x1="33.8" y1="378.9" x2="37.3" y2="378.9" stroke="#1a1a1a" stroke-width="1"/>
<text x="31.5" y="381.4" font-size="7" text-anchor="end" font-weight="normal" fill="#1c1c1c" textLength="11.3" lengthAdjust="spacingAndGlyphs">250</text>
<line x1="33.8" y1="366.8" x2="37.3" y2="366.8" stroke="#1a1a1a" stroke-width="1"/>
<text x="31.5" y="369.3" font-size="7" text-anchor="end" font-weight="normal" fill="#1c1c1c" textLength="11.3" lengthAdjust="spacingAndGlyphs">300</text>
<text x="87.4" y="352.7" font-size="8.85" text-anchor="middle" font-weight="normal" fill="#1c1c1c">WAS4 m48</text>
<text x="41.55" y="468.2" font-size="6.8" text-anchor="middle" font-weight="normal" fill="#1c1c1c">G</text>
<text x="41.55" y="476.3" font-size="6.8" text-anchor="middle" font-weight="normal" fill="#1c1c1c" textLength="11.2" lengthAdjust="spacingAndGlyphs">bias</text>
<text x="130.53" y="468.2" font-size="6.8" text-anchor="middle" font-weight="normal" fill="#1c1c1c">T</text>
<text x="131.13" y="476.3" font-size="6.8" text-anchor="middle" font-weight="normal" fill="#1c1c1c" textLength="11.2" lengthAdjust="spacingAndGlyphs">bias</text>
<text x="86.39" y="470" font-size="6.8" text-anchor="middle" font-weight="normal" fill="#1c1c1c" textLength="10.4" lengthAdjust="spacingAndGlyphs">Bal.</text>
<line x1="54.75" y1="467.5" x2="77.19" y2="467.5" stroke="#2b2b2b" stroke-width="1.15"/>
<path d="M51.75 467.5 L57.55 464.7 L56.35 467.5 L57.55 470.3 Z" fill="#1a1a1a"/>
<line x1="94.99" y1="467.5" x2="118.23" y2="467.5" stroke="#2b2b2b" stroke-width="1.15"/>
<path d="M121.23 467.5 L115.43 464.7 L116.63 467.5 L115.43 470.3 Z" fill="#1a1a1a"/>
<text transform="translate(15.2 398.9) rotate(-90)" font-size="8.6" text-anchor="middle" fill="#1c1c1c" textLength="32.6" lengthAdjust="spacingAndGlyphs">IS number</text>
<rect x="165.65" y="361.89" width="9.4" height="77.81" fill="#E9BA1F"/>
<line x1="170.35" y1="439.7" x2="170.35" y2="442.9" stroke="#1a1a1a" stroke-width="1.1"/>
<text class="r" transform="translate(173.45 449.5) rotate(-45)" font-size="7.3" text-anchor="end" fill="#1c1c1c"><tspan font-size="5.4" dy="-0.6" fill="#3a3a3a">&gt;</tspan><tspan dy="0.6" dx="0.5">10</tspan></text>
<rect x="176.31" y="432.03" width="9.4" height="7.67" fill="#E9BA1F"/>
<line x1="181.01" y1="439.7" x2="181.01" y2="442.9" stroke="#1a1a1a" stroke-width="1.1"/>
<text class="r" transform="translate(184.11 449.5) rotate(-45)" font-size="7.3" text-anchor="end" fill="#1c1c1c"><tspan font-size="5.4" dy="-0.6" fill="#3a3a3a">&gt;</tspan><tspan dy="0.6" dx="0.5">5</tspan></text>
<rect x="186.97" y="429.19" width="9.4" height="10.51" fill="#E9BA1F"/>
<line x1="191.67" y1="439.7" x2="191.67" y2="442.9" stroke="#1a1a1a" stroke-width="1.1"/>
<text class="r" transform="translate(194.77 449.5) rotate(-45)" font-size="7.3" text-anchor="end" fill="#1c1c1c"><tspan font-size="5.4" dy="-0.6" fill="#3a3a3a">&gt;</tspan><tspan dy="0.6" dx="0.5">3</tspan></text>
<rect x="197.63" y="428.06" width="9.4" height="11.64" fill="#E9BA1F"/>
<line x1="202.33" y1="439.7" x2="202.33" y2="442.9" stroke="#1a1a1a" stroke-width="1.1"/>
<text class="r" transform="translate(205.43 449.5) rotate(-45)" font-size="7.3" text-anchor="end" fill="#1c1c1c"><tspan font-size="5.4" dy="-0.6" fill="#3a3a3a">&gt;</tspan><tspan dy="0.6" dx="0.5">1.5</tspan></text>
<rect x="208.29" y="427.49" width="9.4" height="12.21" fill="#E9BA1F"/>
<line x1="212.99" y1="439.7" x2="212.99" y2="442.9" stroke="#1a1a1a" stroke-width="1.1"/>
<text class="r" transform="translate(216.09 449.5) rotate(-45)" font-size="7.3" text-anchor="end" fill="#1c1c1c">1</text>
<rect x="218.95" y="432.03" width="9.4" height="7.67" fill="#E9BA1F"/>
<line x1="223.65" y1="439.7" x2="223.65" y2="442.9" stroke="#1a1a1a" stroke-width="1.1"/>
<text class="r" transform="translate(226.75 449.5) rotate(-45)" font-size="7.3" text-anchor="end" fill="#1c1c1c"><tspan font-size="5.4" dy="-0.6" fill="#3a3a3a">&gt;</tspan><tspan dy="0.6" dx="0.5">1.5</tspan></text>
<rect x="229.61" y="436.28" width="9.4" height="3.42" fill="#E9BA1F"/>
<line x1="234.31" y1="439.7" x2="234.31" y2="442.9" stroke="#1a1a1a" stroke-width="1.1"/>
<text class="r" transform="translate(237.41 449.5) rotate(-45)" font-size="7.3" text-anchor="end" fill="#1c1c1c"><tspan font-size="5.4" dy="-0.6" fill="#3a3a3a">&gt;</tspan><tspan dy="0.6" dx="0.5">3</tspan></text>
<rect x="240.27" y="433.73" width="9.4" height="5.97" fill="#E9BA1F"/>
<line x1="244.97" y1="439.7" x2="244.97" y2="442.9" stroke="#1a1a1a" stroke-width="1.1"/>
<text class="r" transform="translate(248.07 449.5) rotate(-45)" font-size="7.3" text-anchor="end" fill="#1c1c1c"><tspan font-size="5.4" dy="-0.6" fill="#3a3a3a">&gt;</tspan><tspan dy="0.6" dx="0.5">5</tspan></text>
<rect x="250.93" y="376.12" width="9.4" height="63.58" fill="#E9BA1F"/>
<line x1="255.63" y1="439.7" x2="255.63" y2="442.9" stroke="#1a1a1a" stroke-width="1.1"/>
<text class="r" transform="translate(258.73 449.5) rotate(-45)" font-size="7.3" text-anchor="end" fill="#1c1c1c"><tspan font-size="5.4" dy="-0.6" fill="#3a3a3a">&gt;</tspan><tspan dy="0.6" dx="0.5">10</tspan></text>
<line x1="163.8" y1="358.1" x2="163.8" y2="440.2" stroke="#1a1a1a" stroke-width="1.1"/>
<line x1="163.3" y1="439.7" x2="263.59" y2="439.7" stroke="#1a1a1a" stroke-width="1.1"/>
<line x1="160.3" y1="439.4" x2="163.8" y2="439.4" stroke="#1a1a1a" stroke-width="1"/>
<text x="158" y="441.9" font-size="7" text-anchor="end" font-weight="normal" fill="#1c1c1c" textLength="3.7" lengthAdjust="spacingAndGlyphs">0</text>
<line x1="160.3" y1="411.05" x2="163.8" y2="411.05" stroke="#1a1a1a" stroke-width="1"/>
<text x="158" y="413.55" font-size="7" text-anchor="end" font-weight="normal" fill="#1c1c1c" textLength="7.5" lengthAdjust="spacingAndGlyphs">50</text>
<line x1="160.3" y1="382.7" x2="163.8" y2="382.7" stroke="#1a1a1a" stroke-width="1"/>
<text x="158" y="385.2" font-size="7" text-anchor="end" font-weight="normal" fill="#1c1c1c" textLength="11.3" lengthAdjust="spacingAndGlyphs">100</text>
<text x="213.9" y="352.7" font-size="8.85" text-anchor="middle" font-weight="normal" fill="#1c1c1c">WAS5 m55</text>
<text x="168.05" y="468.2" font-size="6.8" text-anchor="middle" font-weight="normal" fill="#1c1c1c">G</text>
<text x="168.05" y="476.3" font-size="6.8" text-anchor="middle" font-weight="normal" fill="#1c1c1c" textLength="11.2" lengthAdjust="spacingAndGlyphs">bias</text>
<text x="257.03" y="468.2" font-size="6.8" text-anchor="middle" font-weight="normal" fill="#1c1c1c">T</text>
<text x="257.63" y="476.3" font-size="6.8" text-anchor="middle" font-weight="normal" fill="#1c1c1c" textLength="11.2" lengthAdjust="spacingAndGlyphs">bias</text>
<text x="212.89" y="470" font-size="6.8" text-anchor="middle" font-weight="normal" fill="#1c1c1c" textLength="10.4" lengthAdjust="spacingAndGlyphs">Bal.</text>
<line x1="181.25" y1="467.5" x2="203.69" y2="467.5" stroke="#2b2b2b" stroke-width="1.15"/>
<path d="M178.25 467.5 L184.05 464.7 L182.85 467.5 L184.05 470.3 Z" fill="#1a1a1a"/>
<line x1="221.49" y1="467.5" x2="244.73" y2="467.5" stroke="#2b2b2b" stroke-width="1.15"/>
<path d="M247.73 467.5 L241.93 464.7 L243.13 467.5 L241.93 470.3 Z" fill="#1a1a1a"/>
<rect x="288.55" y="361.9" width="9.4" height="77.8" fill="#6AA841"/>
<line x1="293.25" y1="439.7" x2="293.25" y2="442.9" stroke="#1a1a1a" stroke-width="1.1"/>
<text class="r" transform="translate(296.35 449.5) rotate(-45)" font-size="7.3" text-anchor="end" fill="#1c1c1c"><tspan font-size="5.4" dy="-0.6" fill="#3a3a3a">&gt;</tspan><tspan dy="0.6" dx="0.5">10</tspan></text>
<rect x="299.21" y="421.24" width="9.4" height="18.46" fill="#6AA841"/>
<line x1="303.91" y1="439.7" x2="303.91" y2="442.9" stroke="#1a1a1a" stroke-width="1.1"/>
<text class="r" transform="translate(307.01 449.5) rotate(-45)" font-size="7.3" text-anchor="end" fill="#1c1c1c"><tspan font-size="5.4" dy="-0.6" fill="#3a3a3a">&gt;</tspan><tspan dy="0.6" dx="0.5">5</tspan></text>
<rect x="309.87" y="401.49" width="9.4" height="38.21" fill="#6AA841"/>
<line x1="314.57" y1="439.7" x2="314.57" y2="442.9" stroke="#1a1a1a" stroke-width="1.1"/>
<text class="r" transform="translate(317.67 449.5) rotate(-45)" font-size="7.3" text-anchor="end" fill="#1c1c1c"><tspan font-size="5.4" dy="-0.6" fill="#3a3a3a">&gt;</tspan><tspan dy="0.6" dx="0.5">3</tspan></text>
<rect x="320.53" y="368.64" width="9.4" height="71.06" fill="#6AA841"/>
<line x1="325.23" y1="439.7" x2="325.23" y2="442.9" stroke="#1a1a1a" stroke-width="1.1"/>
<text class="r" transform="translate(328.33 449.5) rotate(-45)" font-size="7.3" text-anchor="end" fill="#1c1c1c"><tspan font-size="5.4" dy="-0.6" fill="#3a3a3a">&gt;</tspan><tspan dy="0.6" dx="0.5">1.5</tspan></text>
<rect x="331.19" y="366.86" width="9.4" height="72.84" fill="#6AA841"/>
<line x1="335.89" y1="439.7" x2="335.89" y2="442.9" stroke="#1a1a1a" stroke-width="1.1"/>
<text class="r" transform="translate(338.99 449.5) rotate(-45)" font-size="7.3" text-anchor="end" fill="#1c1c1c">1</text>
<rect x="341.85" y="395.78" width="9.4" height="43.92" fill="#6AA841"/>
<line x1="346.55" y1="439.7" x2="346.55" y2="442.9" stroke="#1a1a1a" stroke-width="1.1"/>
<text class="r" transform="translate(349.65 449.5) rotate(-45)" font-size="7.3" text-anchor="end" fill="#1c1c1c"><tspan font-size="5.4" dy="-0.6" fill="#3a3a3a">&gt;</tspan><tspan dy="0.6" dx="0.5">1.5</tspan></text>
<rect x="352.51" y="414.32" width="9.4" height="25.38" fill="#6AA841"/>
<line x1="357.21" y1="439.7" x2="357.21" y2="442.9" stroke="#1a1a1a" stroke-width="1.1"/>
<text class="r" transform="translate(360.31 449.5) rotate(-45)" font-size="7.3" text-anchor="end" fill="#1c1c1c"><tspan font-size="5.4" dy="-0.6" fill="#3a3a3a">&gt;</tspan><tspan dy="0.6" dx="0.5">3</tspan></text>
<rect x="363.17" y="422.08" width="9.4" height="17.62" fill="#6AA841"/>
<line x1="367.87" y1="439.7" x2="367.87" y2="442.9" stroke="#1a1a1a" stroke-width="1.1"/>
<text class="r" transform="translate(370.97 449.5) rotate(-45)" font-size="7.3" text-anchor="end" fill="#1c1c1c"><tspan font-size="5.4" dy="-0.6" fill="#3a3a3a">&gt;</tspan><tspan dy="0.6" dx="0.5">5</tspan></text>
<rect x="373.83" y="411.69" width="9.4" height="28.01" fill="#6AA841"/>
<line x1="378.53" y1="439.7" x2="378.53" y2="442.9" stroke="#1a1a1a" stroke-width="1.1"/>
<text class="r" transform="translate(381.63 449.5) rotate(-45)" font-size="7.3" text-anchor="end" fill="#1c1c1c"><tspan font-size="5.4" dy="-0.6" fill="#3a3a3a">&gt;</tspan><tspan dy="0.6" dx="0.5">10</tspan></text>
<line x1="286.7" y1="358.1" x2="286.7" y2="440.2" stroke="#1a1a1a" stroke-width="1.1"/>
<line x1="286.2" y1="439.7" x2="386.49" y2="439.7" stroke="#1a1a1a" stroke-width="1.1"/>
<line x1="283.2" y1="439.4" x2="286.7" y2="439.4" stroke="#1a1a1a" stroke-width="1"/>
<text x="280.9" y="441.9" font-size="7" text-anchor="end" font-weight="normal" fill="#1c1c1c" textLength="3.7" lengthAdjust="spacingAndGlyphs">0</text>
<line x1="283.2" y1="392.6" x2="286.7" y2="392.6" stroke="#1a1a1a" stroke-width="1"/>
<text x="280.9" y="395.1" font-size="7" text-anchor="end" font-weight="normal" fill="#1c1c1c" textLength="7.5" lengthAdjust="spacingAndGlyphs">50</text>
<text x="336.8" y="352.7" font-size="8.85" text-anchor="middle" font-weight="normal" fill="#1c1c1c" textLength="41.6" lengthAdjust="spacingAndGlyphs">βS/βS m24</text>
<text x="290.95" y="468.2" font-size="6.8" text-anchor="middle" font-weight="normal" fill="#1c1c1c">G</text>
<text x="290.95" y="476.3" font-size="6.8" text-anchor="middle" font-weight="normal" fill="#1c1c1c" textLength="11.2" lengthAdjust="spacingAndGlyphs">bias</text>
<text x="379.93" y="468.2" font-size="6.8" text-anchor="middle" font-weight="normal" fill="#1c1c1c">T</text>
<text x="380.53" y="476.3" font-size="6.8" text-anchor="middle" font-weight="normal" fill="#1c1c1c" textLength="11.2" lengthAdjust="spacingAndGlyphs">bias</text>
<text x="335.79" y="470" font-size="6.8" text-anchor="middle" font-weight="normal" fill="#1c1c1c" textLength="10.4" lengthAdjust="spacingAndGlyphs">Bal.</text>
<line x1="304.15" y1="467.5" x2="326.59" y2="467.5" stroke="#2b2b2b" stroke-width="1.15"/>
<path d="M301.15 467.5 L306.95 464.7 L305.75 467.5 L306.95 470.3 Z" fill="#1a1a1a"/>
<line x1="344.39" y1="467.5" x2="367.63" y2="467.5" stroke="#2b2b2b" stroke-width="1.15"/>
<path d="M370.63 467.5 L364.83 464.7 L366.03 467.5 L364.83 470.3 Z" fill="#1a1a1a"/>
<rect x="414.9" y="362.02" width="9.4" height="77.68" fill="#C6007E"/>
<line x1="419.6" y1="439.7" x2="419.6" y2="442.9" stroke="#1a1a1a" stroke-width="1.1"/>
<text class="r" transform="translate(422.7 449.5) rotate(-45)" font-size="7.3" text-anchor="end" fill="#1c1c1c"><tspan font-size="5.4" dy="-0.6" fill="#3a3a3a">&gt;</tspan><tspan dy="0.6" dx="0.5">10</tspan></text>
<rect x="425.56" y="434.2" width="9.4" height="5.5" fill="#C6007E"/>
<line x1="430.26" y1="439.7" x2="430.26" y2="442.9" stroke="#1a1a1a" stroke-width="1.1"/>
<text class="r" transform="translate(433.36 449.5) rotate(-45)" font-size="7.3" text-anchor="end" fill="#1c1c1c"><tspan font-size="5.4" dy="-0.6" fill="#3a3a3a">&gt;</tspan><tspan dy="0.6" dx="0.5">5</tspan></text>
<rect x="436.22" y="423.49" width="9.4" height="16.21" fill="#C6007E"/>
<line x1="440.92" y1="439.7" x2="440.92" y2="442.9" stroke="#1a1a1a" stroke-width="1.1"/>
<text class="r" transform="translate(444.02 449.5) rotate(-45)" font-size="7.3" text-anchor="end" fill="#1c1c1c"><tspan font-size="5.4" dy="-0.6" fill="#3a3a3a">&gt;</tspan><tspan dy="0.6" dx="0.5">3</tspan></text>
<rect x="446.88" y="417.51" width="9.4" height="22.19" fill="#C6007E"/>
<line x1="451.58" y1="439.7" x2="451.58" y2="442.9" stroke="#1a1a1a" stroke-width="1.1"/>
<text class="r" transform="translate(454.68 449.5) rotate(-45)" font-size="7.3" text-anchor="end" fill="#1c1c1c"><tspan font-size="5.4" dy="-0.6" fill="#3a3a3a">&gt;</tspan><tspan dy="0.6" dx="0.5">1.5</tspan></text>
<rect x="457.54" y="418.59" width="9.4" height="21.11" fill="#C6007E"/>
<line x1="462.24" y1="439.7" x2="462.24" y2="442.9" stroke="#1a1a1a" stroke-width="1.1"/>
<text class="r" transform="translate(465.34 449.5) rotate(-45)" font-size="7.3" text-anchor="end" fill="#1c1c1c">1</text>
<rect x="468.2" y="424.09" width="9.4" height="15.61" fill="#C6007E"/>
<line x1="472.9" y1="439.7" x2="472.9" y2="442.9" stroke="#1a1a1a" stroke-width="1.1"/>
<text class="r" transform="translate(476 449.5) rotate(-45)" font-size="7.3" text-anchor="end" fill="#1c1c1c"><tspan font-size="5.4" dy="-0.6" fill="#3a3a3a">&gt;</tspan><tspan dy="0.6" dx="0.5">1.5</tspan></text>
<rect x="478.86" y="435.09" width="9.4" height="4.61" fill="#C6007E"/>
<line x1="483.56" y1="439.7" x2="483.56" y2="442.9" stroke="#1a1a1a" stroke-width="1.1"/>
<text class="r" transform="translate(486.66 449.5) rotate(-45)" font-size="7.3" text-anchor="end" fill="#1c1c1c"><tspan font-size="5.4" dy="-0.6" fill="#3a3a3a">&gt;</tspan><tspan dy="0.6" dx="0.5">3</tspan></text>
<rect x="489.52" y="433.66" width="9.4" height="6.04" fill="#C6007E"/>
<line x1="494.22" y1="439.7" x2="494.22" y2="442.9" stroke="#1a1a1a" stroke-width="1.1"/>
<text class="r" transform="translate(497.32 449.5) rotate(-45)" font-size="7.3" text-anchor="end" fill="#1c1c1c"><tspan font-size="5.4" dy="-0.6" fill="#3a3a3a">&gt;</tspan><tspan dy="0.6" dx="0.5">5</tspan></text>
<rect x="500.18" y="410.22" width="9.4" height="29.48" fill="#C6007E"/>
<line x1="504.88" y1="439.7" x2="504.88" y2="442.9" stroke="#1a1a1a" stroke-width="1.1"/>
<text class="r" transform="translate(507.98 449.5) rotate(-45)" font-size="7.3" text-anchor="end" fill="#1c1c1c"><tspan font-size="5.4" dy="-0.6" fill="#3a3a3a">&gt;</tspan><tspan dy="0.6" dx="0.5">10</tspan></text>
<line x1="413.05" y1="358.1" x2="413.05" y2="440.2" stroke="#1a1a1a" stroke-width="1.1"/>
<line x1="412.55" y1="439.7" x2="512.84" y2="439.7" stroke="#1a1a1a" stroke-width="1.1"/>
<line x1="409.55" y1="439.4" x2="413.05" y2="439.4" stroke="#1a1a1a" stroke-width="1"/>
<text x="407.25" y="441.9" font-size="7" text-anchor="end" font-weight="normal" fill="#1c1c1c" textLength="3.7" lengthAdjust="spacingAndGlyphs">0</text>
<line x1="409.55" y1="409.5" x2="413.05" y2="409.5" stroke="#1a1a1a" stroke-width="1"/>
<text x="407.25" y="412" font-size="7" text-anchor="end" font-weight="normal" fill="#1c1c1c" textLength="7.5" lengthAdjust="spacingAndGlyphs">50</text>
<line x1="409.55" y1="379.6" x2="413.05" y2="379.6" stroke="#1a1a1a" stroke-width="1"/>
<text x="407.25" y="382.1" font-size="7" text-anchor="end" font-weight="normal" fill="#1c1c1c" textLength="11.3" lengthAdjust="spacingAndGlyphs">100</text>
<text x="463" y="352.7" font-size="8.85" text-anchor="middle" font-weight="normal" fill="#1c1c1c" textLength="42.8" lengthAdjust="spacingAndGlyphs">β0/βE m48</text>
<text x="417.3" y="468.2" font-size="6.8" text-anchor="middle" font-weight="normal" fill="#1c1c1c">G</text>
<text x="417.3" y="476.3" font-size="6.8" text-anchor="middle" font-weight="normal" fill="#1c1c1c" textLength="11.2" lengthAdjust="spacingAndGlyphs">bias</text>
<text x="506.28" y="468.2" font-size="6.8" text-anchor="middle" font-weight="normal" fill="#1c1c1c">T</text>
<text x="506.88" y="476.3" font-size="6.8" text-anchor="middle" font-weight="normal" fill="#1c1c1c" textLength="11.2" lengthAdjust="spacingAndGlyphs">bias</text>
<text x="462.14" y="470" font-size="6.8" text-anchor="middle" font-weight="normal" fill="#1c1c1c" textLength="10.4" lengthAdjust="spacingAndGlyphs">Bal.</text>
<line x1="430.5" y1="467.5" x2="452.94" y2="467.5" stroke="#2b2b2b" stroke-width="1.15"/>
<path d="M427.5 467.5 L433.3 464.7 L432.1 467.5 L433.3 470.3 Z" fill="#1a1a1a"/>
<line x1="470.74" y1="467.5" x2="493.98" y2="467.5" stroke="#2b2b2b" stroke-width="1.15"/>
<path d="M496.98 467.5 L491.18 464.7 L492.38 467.5 L491.18 470.3 Z" fill="#1a1a1a"/>
</svg>
<div id="frame"></div>
</body></html>
